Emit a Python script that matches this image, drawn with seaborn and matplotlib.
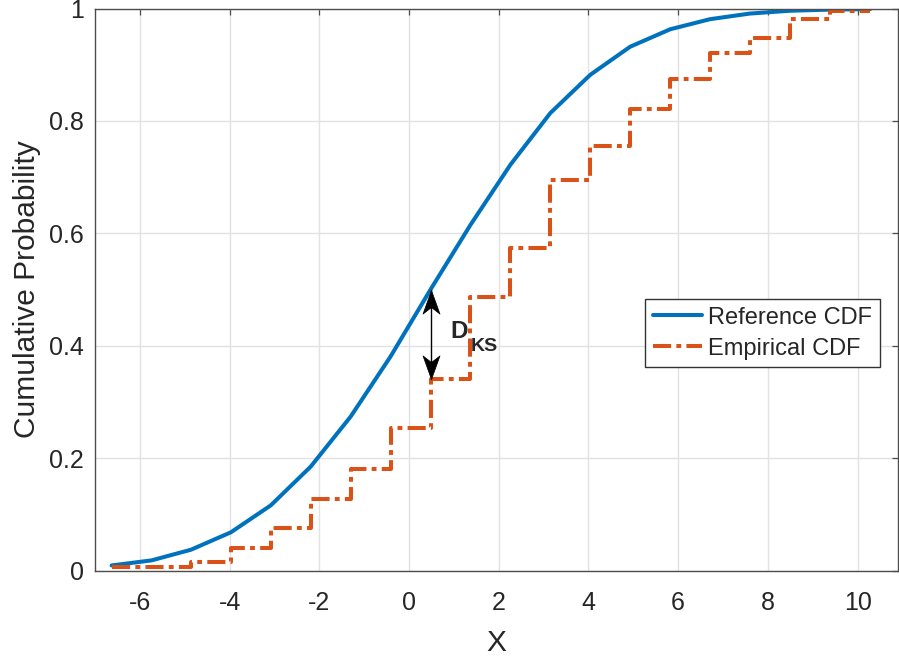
import matplotlib
matplotlib.use("Agg")
import matplotlib.pyplot as plt
from matplotlib.path import Path
import seaborn as sns

# Evaluation grid and the two cumulative distributions
x_grid = [-6.63, -5.74, -4.86, -3.97, -3.08, -2.19, -1.30, -0.41, 0.48, 1.37,
          2.26, 3.15, 4.04, 4.93, 5.82, 6.71, 7.60, 8.49, 9.38, 10.28]
ref_cdf = [0.009, 0.018, 0.037, 0.068, 0.116, 0.185, 0.274, 0.381, 0.500, 0.615,
           0.722, 0.814, 0.882, 0.932, 0.963, 0.981, 0.991, 0.996, 0.998, 0.999]
emp_cdf = [0.007, 0.007, 0.015, 0.040, 0.075, 0.128, 0.180, 0.253, 0.340, 0.487,
           0.573, 0.695, 0.755, 0.821, 0.874, 0.921, 0.948, 0.981, 0.995, 0.995]

# index where the KS distance is marked
ks_index = 8

x_ticks = [-6, -4, -2, 0, 2, 4, 6, 8, 10]
x_tick_labels = ["-6", "-4", "-2", "0", "2", "4", "6", "8", "10"]
y_ticks = [0, 0.2, 0.4, 0.6, 0.8, 1.0]
y_tick_labels = ["0", "0.2", "0.4", "0.6", "0.8", "1"]

sns.set_style("white")
plt.rcParams["font.family"] = ["Liberation Sans", "DejaVu Sans"]

blue = "#0072BD"
orange = "#D95319"
axis_col = "#262626"

fig = plt.figure(figsize=(8.99, 6.59), dpi=100)
ax = fig.add_axes([95 / 899, 1 - 570.5 / 659, 803 / 899, 562 / 659])

sns.lineplot(x=x_grid, y=ref_cdf, ax=ax, color=blue, lw=2.9,
             errorbar=None, label="Reference CDF", legend=False)
sns.lineplot(x=x_grid, y=emp_cdf, ax=ax, color=orange, lw=2.9,
             errorbar=None, drawstyle="steps-post",
             linestyle=(0, (4.5, 1.3, 1.2, 1.3)),
             label="Empirical CDF", legend=False)

ax.set_xlim(-7, 10.9)
ax.set_ylim(0, 1)
ax.set_xticks(x_ticks)
ax.set_xticklabels(x_tick_labels)
ax.set_yticks(y_ticks)
ax.set_yticklabels(y_tick_labels)

ax.grid(True, color="#e2e2e2", lw=1.0)
ax.set_axisbelow(True)
for sp in ax.spines.values():
    sp.set_visible(True)
    sp.set_color("#4d4d4d")
    sp.set_linewidth(1.0)
ax.tick_params(direction="in", top=True, right=True, length=4.5, width=0.9,
               color="#4d4d4d", labelsize=18, labelcolor=axis_col)
ax.tick_params(axis="x", pad=15)
ax.tick_params(axis="y", pad=8)

ax.set_xlabel("X", fontsize=21.5, color=axis_col, labelpad=10)
ax.set_ylabel("Cumulative Probability", fontsize=21.5, color=axis_col, labelpad=6)

# KS distance marker: a shaft with swept-back arrowheads at both ends
def head(direction):
    s = direction
    verts = [(0, 0), (-0.36, -1.0 * s), (0, -0.72 * s), (0.36, -1.0 * s), (0, 0)]
    codes = [Path.MOVETO, Path.LINETO, Path.LINETO, Path.LINETO, Path.CLOSEPOLY]
    return Path(verts, codes)

xk = x_grid[ks_index]
ax.plot([xk, xk], [emp_cdf[ks_index], ref_cdf[ks_index]], color="black", lw=1.0)
ax.plot([xk], [ref_cdf[ks_index]], marker=head(1), ms=34, color="black",
        markeredgewidth=0.5, ls="none")
ax.plot([xk], [emp_cdf[ks_index]], marker=head(-1), ms=34, color="black",
        markeredgewidth=0.5, ls="none")
ax.text(1.12, 0.425, "D", fontsize=17.5, fontweight="bold", ha="center", va="center")
ax.text(1.68, 0.398, "KS", fontsize=14, fontweight="bold", ha="center", va="center")

leg = ax.legend(loc="upper left", bbox_to_anchor=(0.685, 0.483), borderaxespad=0,
                fontsize=17, frameon=True, fancybox=False, framealpha=1,
                edgecolor="#333333", handlelength=2.1, handletextpad=0.25,
                labelspacing=0.38, borderpad=0.32)
leg.get_frame().set_linewidth(1.0)

fig.savefig("out.png", dpi=100)
